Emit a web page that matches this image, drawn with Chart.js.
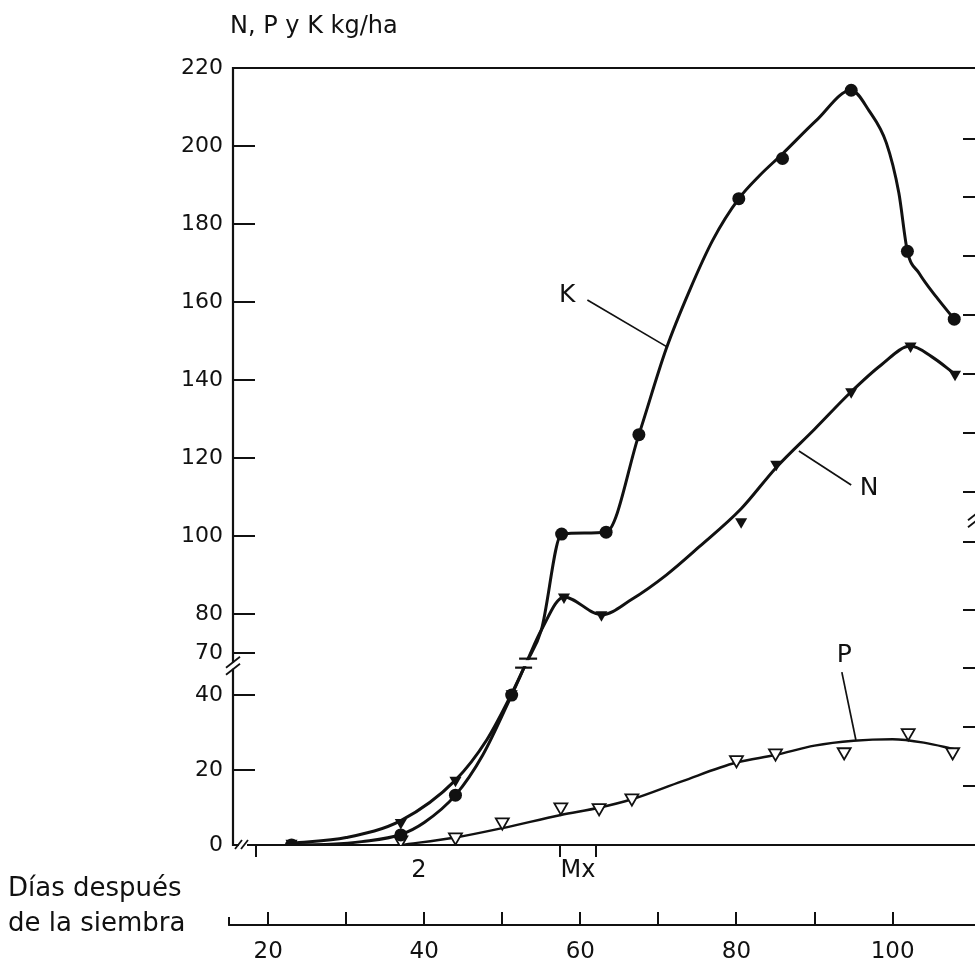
<!DOCTYPE html>
<html><head><meta charset="utf-8">
<script src="https://cdn.jsdelivr.net/npm/chart.js@4.4.1/dist/chart.umd.min.js"></script>
<style>
html,body{margin:0;padding:0;background:#fff;overflow:hidden;width:975px;height:964px}
#wrap{position:absolute;left:0;top:0;width:990px;height:964px}
</style>
</head><body><div id="wrap"><canvas id="c" width="990" height="964"></canvas></div>
<script>
// ---------- data ----------
// measured points (markers)
const sampleDaysK = [23, 37, 44, 51.2, 57.6, 63.3, 67.5, 80.3, 85.9, 94.7, 101.9, 107.9];
const potassium   = [0, 2.7, 13.3, 40, 100.5, 101, 126, 186.5, 196.8, 214.3, 173, 155.6];
const sampleDaysN = [23, 37, 44, 51.2, 57.9, 62.7, 80.6, 85.1, 94.7, 102.3, 108];
const nitrogen    = [0.5, 6, 17.3, 41, 84.4, 79.8, 103.7, 118.4, 137, 148.7, 141.5];
const sampleDaysP = [37, 44, 50, 57.5, 62.4, 66.6, 80, 85, 93.8, 102, 107.7];
const phosphorus  = [1.3, 2.1, 6.1, 10.1, 9.9, 12.5, 22.7, 24.5, 24.8, 29.9, 24.8];
// hand-drawn curves
const kCurveDays   = [23, 28, 32, 37, 40, 44, 47.5, 51.2, 53.05, 55, 57.6, 60.5, 63.3, 67.5, 71, 74, 77, 80.3, 83, 85.9, 90.2, 94.7, 97, 99.2, 100.8, 101.9, 103.4, 105.6, 107.9];
const kCurveValues = [0, 0.2, 0.9, 2.8, 6, 13.3, 24, 40, 62.8, 75.9, 100.5, 100.8, 101, 126, 148, 163, 176, 186.5, 192.5, 198, 206.5, 214.3, 209, 200.8, 188, 173, 167.4, 161.3, 155.6];
const nCurveDays   = [23, 30, 37, 44, 48, 51.2, 53.05, 55, 57.9, 62.7, 66.6, 71, 75.2, 80.6, 85.1, 90, 94.7, 98.5, 102.3, 105, 108];
const nCurveValues = [0.5, 2, 6.5, 17.3, 28, 41, 62.8, 75.9, 84.4, 79.8, 83.8, 90, 97.2, 107, 117.6, 127.4, 137, 143.8, 148.7, 146, 141.5];
const pCurveDays   = [37, 44, 50, 57.5, 62.5, 66.6, 73, 80, 85, 90, 95, 100, 104, 108];
const pCurveValues = [0, 2, 4.5, 8, 10, 12.2, 17, 22, 24, 26.5, 27.8, 28.2, 27.3, 25.5];

const yTickValues = [0, 20, 40, 70, 80, 100, 120, 140, 160, 180, 200, 220];
const rightTickValues = [1, 2, 3, 4, 5.15, 6, 7, 8, 9, 10, 11, 12];
const dayTicks = [15, 20, 30, 40, 50, 60, 70, 80, 90, 100];
const dayLabels = [20, 40, 60, 80, 100];
const stageMarkDays = [18.5, 57.4, 62.0];
const stageLabelDays = [39.3, 59.7];
const stageLabels = ['2', 'Mx'];

const seriesNames = ['K', 'N', 'P'];
const seriesLabelPos = [[58.3, 161.6], [97.0, 112.3], [93.8, 68.6]];
const leaderLines = [[60.9, 160.5, 71.1, 148.5], [88.0, 121.8, 94.7, 113.1], [93.5, 56.4, 95.3, 28]];

const yTitle = 'N, P y K kg/ha';
const xTitleLines = ['Días después', 'de la siembra'];

// ---------- broken y scale (0-40 | break | 70-220) ----------
const breakVals  = [0, 40, 70, 220];
const breakFracs = [0, 0.193, 0.247, 1];
function toFrac(v) {
  let i = 0;
  while (i < breakVals.length - 2 && v > breakVals[i + 1]) i++;
  const t = (v - breakVals[i]) / (breakVals[i + 1] - breakVals[i]);
  return breakFracs[i] + t * (breakFracs[i + 1] - breakFracs[i]);
}
function fromFrac(f) {
  let i = 0;
  while (i < breakFracs.length - 2 && f > breakFracs[i + 1]) i++;
  const t = (f - breakFracs[i]) / (breakFracs[i + 1] - breakFracs[i]);
  return breakVals[i] + t * (breakVals[i + 1] - breakVals[i]);
}
class BrokenScale extends Chart.LinearScale {
  getPixelForValue(v) {
    if (v === null || v === undefined || isNaN(v)) return NaN;
    return this.getPixelForDecimal(toFrac(v));
  }
  getValueForPixel(p) { return fromFrac(this.getDecimalForPixel(p)); }
}
BrokenScale.id = 'broken';
BrokenScale.defaults = Chart.LinearScale.defaults;
Chart.register(BrokenScale);

const INK = '#111111';
const FONT = 'DejaVu Sans';
Chart.defaults.font.family = FONT;
Chart.defaults.color = INK;

const pts = (xs, ys) => xs.map((x, i) => ({ x, y: ys[i] }));
function seg(ctx, x1, y1, x2, y2) { ctx.beginPath(); ctx.moveTo(x1, y1); ctx.lineTo(x2, y2); ctx.stroke(); }

const deco = {
  id: 'deco',
  beforeDatasetsDraw(chart) {
    const { ctx, chartArea: a, scales } = chart;
    ctx.save();
    ctx.strokeStyle = INK; ctx.lineWidth = 2.2; ctx.lineCap = 'butt';
    ctx.beginPath();
    ctx.moveTo(a.right, a.top); ctx.lineTo(a.left, a.top); ctx.lineTo(a.left, a.bottom); ctx.lineTo(a.right, a.bottom);
    ctx.stroke();
    ctx.lineWidth = 2;
    scales.y.ticks.forEach(t => { const py = Math.round(scales.y.getPixelForValue(t.value)); seg(ctx, a.left, py, a.left + 22, py); });
    scales.y2.ticks.forEach(t => { const py = Math.round(scales.y2.getPixelForValue(t.value)); seg(ctx, a.right, py, a.right - 17, py); });
    const x2 = scales.x2, yb = x2.top;
    seg(ctx, x2.getPixelForValue(dayTicks[0]) - 1, yb, a.right, yb);
    x2.ticks.forEach((t, i) => { const px = Math.round(x2.getPixelForValue(t.value)); seg(ctx, px, yb - (i === 0 ? 8 : 13), px, yb); });
    ctx.restore();
  },
  afterDatasetsDraw(chart) {
    const { ctx, chartArea: a, scales } = chart;
    const X = v => scales.x.getPixelForValue(v), Y = v => scales.y.getPixelForValue(v);
    ctx.save();
    ctx.strokeStyle = INK; ctx.fillStyle = INK;
    ctx.lineWidth = 1.7;
    leaderLines.forEach(l => seg(ctx, X(l[0]), Y(l[1]), X(l[2]), Y(l[3])));
    ctx.font = '25px ' + FONT; ctx.textAlign = 'center'; ctx.textBaseline = 'middle';
    seriesNames.forEach((n, i) => ctx.fillText(n, X(seriesLabelPos[i][0]), Y(seriesLabelPos[i][1])));
    // break mark on the curves
    const bx = X(53.05), by = Y(62.8);
    ctx.fillStyle = '#fff'; ctx.fillRect(bx - 10, by - 3, 20, 6);
    ctx.lineWidth = 2.2;
    seg(ctx, bx - 7, by - 4.5, bx + 11, by - 4.5);
    seg(ctx, bx - 11, by + 4.5, bx + 6, by + 4.5);
    // break mark on y axis
    const yb = Y(61);
    ctx.fillStyle = '#fff'; ctx.fillRect(a.left - 3, yb - 3, 6, 6);
    ctx.lineWidth = 1.8;
    seg(ctx, a.left - 7, yb + 2, a.left + 7, yb - 9);
    seg(ctx, a.left - 7, yb + 9, a.left + 7, yb - 2);
    // break mark on right axis
    const yr = scales.y2.getPixelForValue(5.55);
    seg(ctx, a.right - 12, yr + 2, a.right + 2, yr - 9);
    seg(ctx, a.right - 12, yr + 9, a.right + 2, yr - 2);
    // break mark on x axis
    ctx.fillStyle = '#fff'; ctx.fillRect(a.left + 6, a.bottom - 3, 8, 6);
    seg(ctx, a.left + 2, a.bottom + 4, a.left + 9, a.bottom - 5);
    seg(ctx, a.left + 8, a.bottom + 4, a.left + 15, a.bottom - 5);
    // titles
    ctx.fillStyle = INK; ctx.textAlign = 'left'; ctx.textBaseline = 'alphabetic';
    ctx.font = '24px ' + FONT;
    ctx.fillText(yTitle, 230, 33);
    ctx.font = '26px ' + FONT;
    ctx.fillText(xTitleLines[0], 8, 896);
    ctx.fillText(xTitleLines[1], 8, 931);
    ctx.restore();
  }
};

const curveStyle = { borderColor: INK, pointRadius: 0, cubicInterpolationMode: 'monotone', fill: false };

new Chart(document.getElementById('c'), {
  type: 'line',
  data: {
    datasets: [
      { label: 'K', data: pts(sampleDaysK, potassium), showLine: false,
        pointStyle: 'circle', pointRadius: 6.5, pointBackgroundColor: INK, pointBorderWidth: 0 },
      { label: 'N', data: pts(sampleDaysN, nitrogen), showLine: false,
        pointStyle: 'triangle', rotation: 180, pointRadius: 7, pointBackgroundColor: INK, pointBorderWidth: 0 },
      { label: 'P', data: pts(sampleDaysP, phosphorus), showLine: false,
        pointStyle: 'triangle', rotation: 180, pointRadius: 7.5, pointBackgroundColor: '#fff',
        pointBorderColor: INK, pointBorderWidth: 1.8 },
      Object.assign({ label: 'K (curva)', data: pts(kCurveDays, kCurveValues), borderWidth: 3 }, curveStyle),
      Object.assign({ label: 'N (curva)', data: pts(nCurveDays, nCurveValues), borderWidth: 3 }, curveStyle),
      Object.assign({ label: 'P (curva)', data: pts(pCurveDays, pCurveValues), borderWidth: 2.4 }, curveStyle)
    ]
  },
  options: {
    responsive: false, animation: false, devicePixelRatio: 1, events: [],
    layout: { padding: { left: 0, right: 0, top: 68, bottom: 0 } },
    plugins: { legend: { display: false }, tooltip: { enabled: false }, title: { display: false } },
    scales: {
      x: {
        type: 'linear', position: 'bottom', min: 15.5, max: 111.2,
        afterBuildTicks: s => { s.ticks = stageMarkDays.concat(stageLabelDays).sort((a, b) => a - b).map(v => ({ value: v })); },
        ticks: { autoSkip: false, maxRotation: 0, minRotation: 0, padding: -1, font: { size: 24 }, color: INK,
          callback: v => { const i = stageLabelDays.indexOf(v); return i >= 0 ? stageLabels[i] : ''; } },
        grid: { display: true, drawOnChartArea: false, drawTicks: true, tickLength: 12, lineWidth: 2,
          color: c => (c.tick && stageMarkDays.includes(c.tick.value)) ? INK : 'rgba(0,0,0,0)' },
        border: { display: false },
        afterFit: s => { s.height = 80; }
      },
      x2: {
        type: 'linear', position: 'bottom', min: 15.5, max: 111.2,
        afterBuildTicks: s => { s.ticks = dayTicks.map(v => ({ value: v })); },
        ticks: { autoSkip: false, maxRotation: 0, minRotation: 0, padding: 13, font: { size: 23 }, color: INK,
          callback: v => dayLabels.includes(v) ? String(v) : '' },
        grid: { display: false, drawTicks: false },
        border: { display: false },
        afterFit: s => { s.height = 39; }
      },
      y: {
        type: 'broken', position: 'left', min: 0, max: 220,
        afterBuildTicks: s => { s.ticks = yTickValues.map(v => ({ value: v })); },
        ticks: { autoSkip: false, padding: 10, font: { size: 22 }, color: INK, callback: v => String(v) },
        grid: { display: false, drawTicks: false },
        border: { display: false },
        afterFit: s => { s.width = 233; }
      },
      y2: {
        type: 'linear', position: 'right', min: 0, max: 13.2,
        afterBuildTicks: s => { s.ticks = rightTickValues.map(v => ({ value: v })); },
        ticks: { display: false },
        grid: { display: false, drawTicks: false },
        border: { display: false },
        afterFit: s => { s.width = 10; }
      }
    }
  },
  plugins: [deco]
});
</script>
</body></html>
